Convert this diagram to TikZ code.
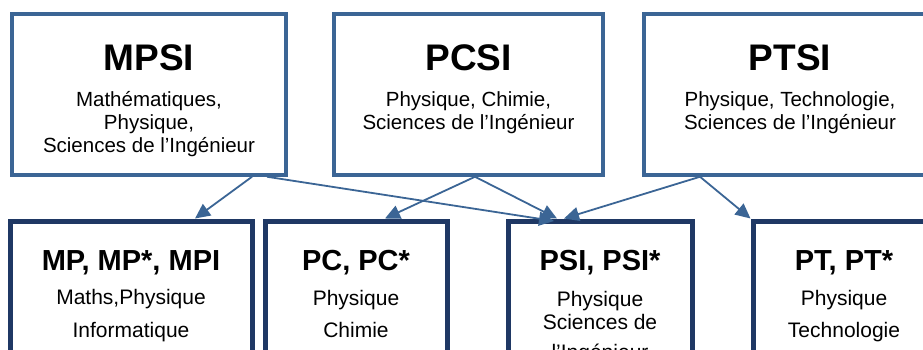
\documentclass[tikz,border=0pt]{standalone}
\usepackage{fontspec}
\setmainfont{Liberation Sans}
\usetikzlibrary{arrows.meta}
\definecolor{topblue}{HTML}{3B6595}
\definecolor{botblue}{HTML}{1F3864}
\begin{document}
\begin{tikzpicture}[x=1pt,y=-1pt,
  topbox/.style={draw=topblue,line width=3.5pt,fill=white,inner sep=0pt,minimum width=#1,minimum height=161pt},
  botbox/.style={draw=botblue,line width=5pt,fill=white,inner sep=0pt,minimum width=#1,minimum height=179pt},
  toptitle/.style={anchor=base,inner sep=0pt,font=\fontsize{37}{40}\selectfont\bfseries},
  bottitle/.style={anchor=base,inner sep=0pt,font=\fontsize{29}{32}\selectfont\bfseries},
  topsub/.style={anchor=base,inner sep=0pt,font=\fontsize{20.5}{23}\selectfont},
  botsub/.style={anchor=base,inner sep=0pt,font=\fontsize{21}{24}\selectfont},
  arr/.style={draw=topblue,line width=1.8pt,-{Triangle[length=15pt,width=14pt]}}]
\useasboundingbox (0,0) rectangle (923,349);
\clip (0,0) rectangle (923,349);
% boxes
\node[topbox=274pt] (mpsi) at (149,94.5) {};
\node[topbox=269pt] (pcsi) at (468.5,94.5) {};
\node[topbox=292pt] (ptsi) at (790,94.5) {};
\node[botbox=242pt] (mp) at (131,310.5) {};
\node[botbox=182pt] (pc) at (356,310.5) {};
\node[botbox=184pt] (psi) at (600,310.5) {};
\node[botbox=182pt] (pt) at (844,310.5) {};
% top texts
\node[toptitle] (mpsit) at (149,70) {MPSI};
\node[topsub] (mpsi1) at (149,106) {Mathématiques,};
\node[topsub] (mpsi2) at (149,129) {Physique,};
\node[topsub] (mpsi3) at (149,152) {Sciences de l’Ingénieur};
\node[toptitle] (pcsit) at (468.5,70) {PCSI};
\node[topsub] (pcsi1) at (468.5,106) {Physique, Chimie,};
\node[topsub] (pcsi2) at (468.5,129) {Sciences de l’Ingénieur};
\node[toptitle] (ptsit) at (790,70) {PTSI};
\node[topsub] (ptsi1) at (790,106) {Physique, Technologie,};
\node[topsub] (ptsi2) at (790,129) {Sciences de l’Ingénieur};
% bottom texts
\node[bottitle] (mpt) at (131,270) {MP, MP*, MPI};
\node[botsub] (mp1) at (131,304) {Maths,Physique};
\node[botsub] (mp2) at (131,337) {Informatique};
\node[bottitle] (pct) at (356,270) {PC, PC*};
\node[botsub] (pc1) at (356,305) {Physique};
\node[botsub] (pc2) at (356,337) {Chimie};
\node[bottitle] (psit) at (600,270) {PSI, PSI*};
\node[botsub] (psi1) at (600,306) {Physique};
\node[botsub] (psi2) at (600,329) {Sciences de};
\node[botsub] (psi3) at (600,359) {l’Ingénieur};
\node[bottitle] (ptt) at (844,270) {PT, PT*};
\node[botsub] (pt1) at (844,305) {Physique};
\node[botsub] (pt2) at (844,337) {Technologie};
% connectors
\draw[arr] ([xshift=103pt]mpsi.south) -- ([xshift=64pt]mp.north);
\draw[arr] ([xshift=118pt]mpsi.south) -- ([xshift=-46pt,yshift=-2.5pt]psi.north);
\draw[arr] ([xshift=6.5pt]pcsi.south) -- ([xshift=29pt]pc.north);
\draw[arr] ([xshift=6.5pt]pcsi.south) -- ([xshift=-43pt]psi.north);
\draw[arr] ([xshift=-90pt]ptsi.south) -- ([xshift=-36pt]psi.north);
\draw[arr] ([xshift=-90pt]ptsi.south) -- (pt.north west);
\end{tikzpicture}
\end{document}
